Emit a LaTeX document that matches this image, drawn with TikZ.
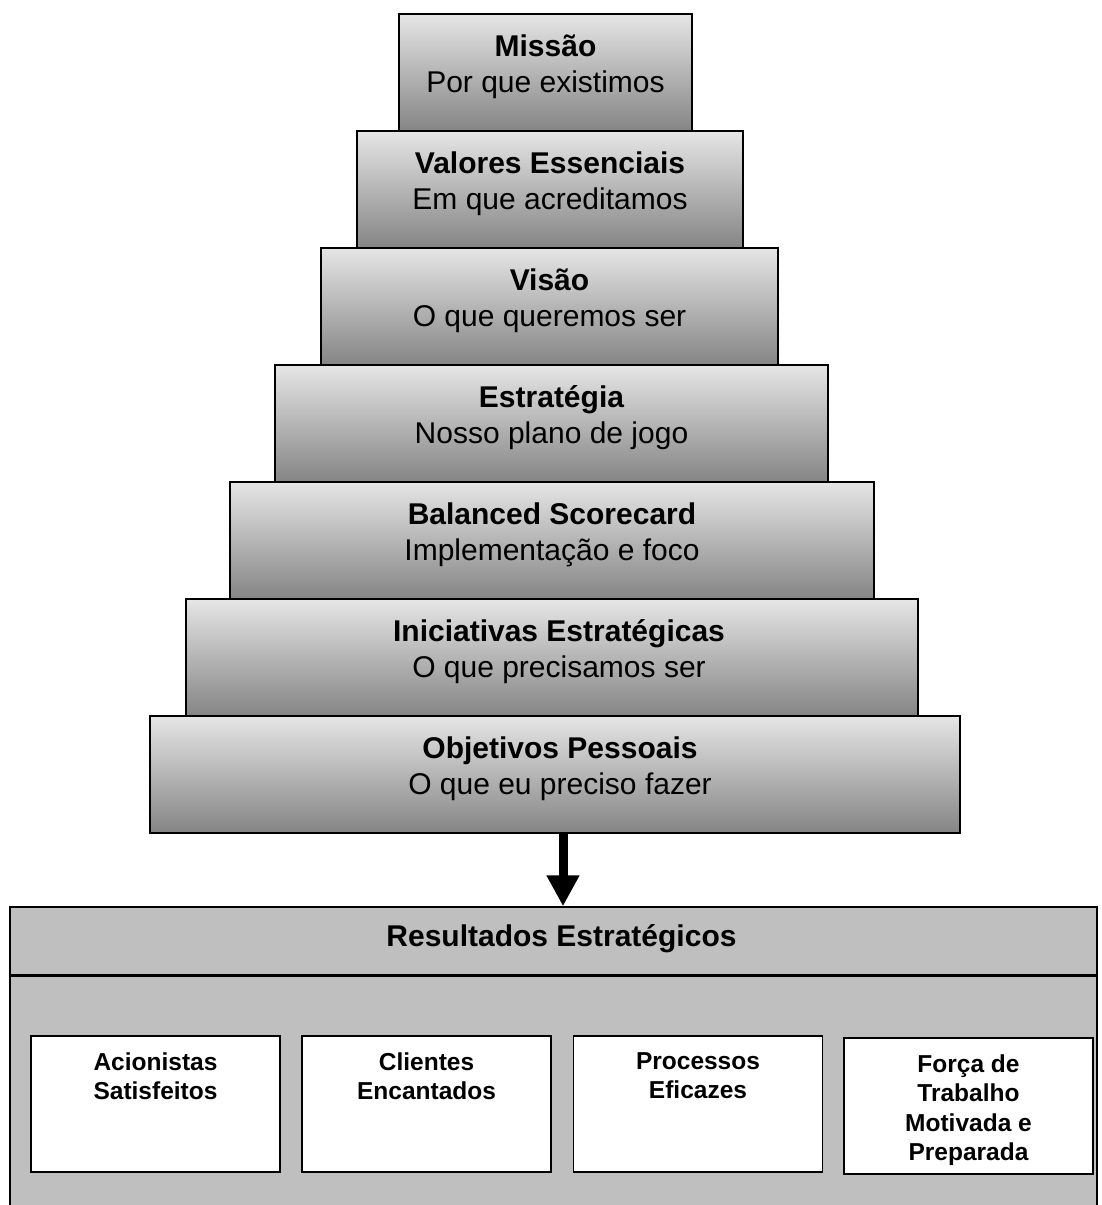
\documentclass[tikz,border=0pt]{standalone}
\usepackage{fontspec}
\setmainfont{Liberation Sans}
\usetikzlibrary{calc,arrows.meta}

\tikzset{
  degrau/.style={draw, line width=1.5pt, top color=black!10, bottom color=black!48,
    minimum height=117pt, inner sep=0pt},
  titulo/.style={anchor=base, font=\fontsize{30}{36}\selectfont\bfseries},
  subtitulo/.style={anchor=base, font=\fontsize{30}{36}\selectfont},
  painel/.style={draw, line width=1.5pt, fill=black!25, inner sep=0pt},
  caixa/.style={draw, line width=1.5pt, fill=white, minimum width=249pt,
    minimum height=136pt, inner sep=0pt},
  rotulo/.style={anchor=north, align=center, inner sep=0pt,
    font=\fontsize{24.5}{29.5}\selectfont\bfseries},
  seta/.style={line width=9pt, -{Triangle[length=31pt,width=31pt]}}
}

\begin{document}
\begin{tikzpicture}[x=1pt,y=-1pt]
\useasboundingbox (0,0) rectangle (1101,1205);

% degraus da piramide
\foreach \i/\x/\w/\dx/\nome/\tit/\sub in {
  0/545.5/293/0/missao/Missão/Por que existimos,
  1/550/386/0/valores/Valores Essenciais/Em que acreditamos,
  2/549.5/457/0/visao/Visão/O que queremos ser,
  3/551.5/553/0/estrategia/Estratégia/Nosso plano de jogo,
  4/552/644/0/bsc/Balanced Scorecard/Implementação e foco,
  5/552/732/7/iniciativas/Iniciativas Estratégicas/O que precisamos ser,
  6/555/810/5/objetivos/Objetivos Pessoais/O que eu preciso fazer}
{
  \node[degrau, minimum width=\w pt] (\nome) at (\x, 14+117*\i+58.5) {};
  \node[titulo] (\nome-tit) at ($(\nome.north)+(\dx,43)$) {\tit};
  \node[subtitulo] (\nome-sub) at ($(\nome.north)+(\dx,79)$) {\sub};
}

% resultados
\node[painel, minimum width=1087pt, minimum height=68pt] (resultados) at (553.5,941) {};
\node[titulo] (resultados-tit) at ($(resultados.north)+(8,40)$) {Resultados Estratégicos};
\node[painel, anchor=north, minimum width=1087pt, minimum height=300pt] (corpo) at (resultados.south) {};

\draw[seta] ([xshift=8pt]objetivos.south) -- ([xshift=9.5pt]resultados.north);

\foreach \x/\y/\nome/\txt in {
  155.5/1104/acionistas/{Acionistas\\Satisfeitos},
  426.5/1104/clientes/{Clientes\\Encantados},
  698/1104/processos/{Processos\\Eficazes},
  968.5/1106/forca/{Força de\\Trabalho\\Motivada e\\Preparada}}
{
  \node[caixa] (\nome) at (\x,\y) {};
  \node[rotulo] (\nome-txt) at ($(\nome.north)+(0,17)$) {\txt};
}
\end{tikzpicture}
\end{document}
